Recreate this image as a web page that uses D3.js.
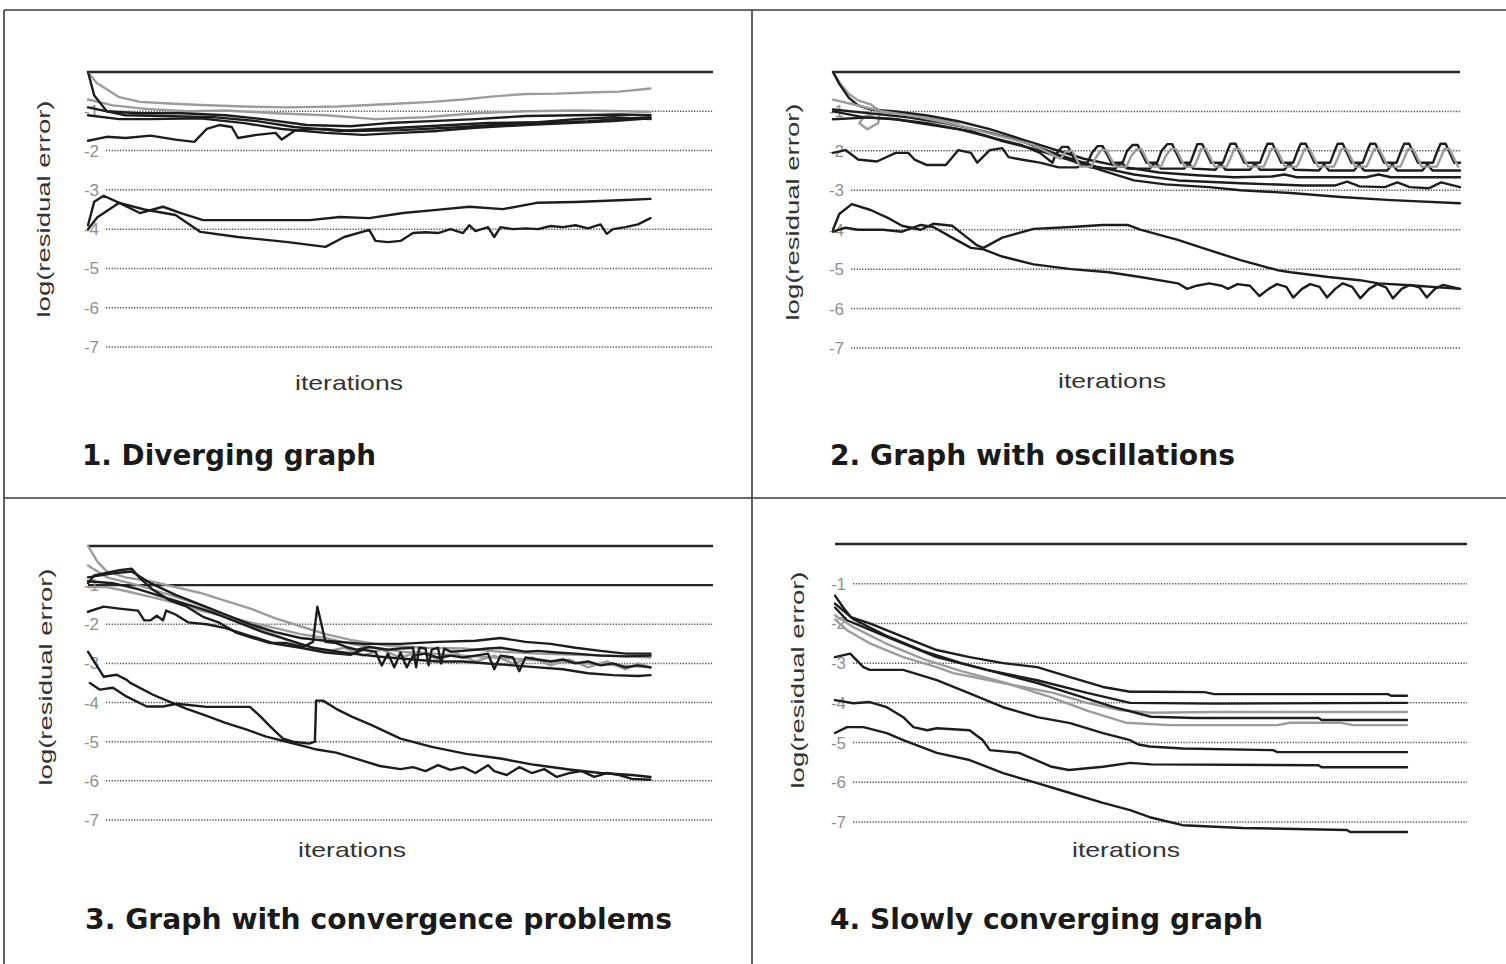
<!DOCTYPE html>
<html>
<head>
<meta charset="utf-8">
<script src="https://cdn.jsdelivr.net/npm/d3@7"></script>
<style>
  html, body { margin: 0; padding: 0; background: #fff; }
  svg { display: block; }
</style>
</head>
<body>
<svg id="chart" width="1506" height="964"></svg>
<script>
// ---------- shared labels ----------
const panelTitles = [
  "1. Diverging graph",
  "2. Graph with oscillations",
  "3. Graph with convergence problems",
  "4. Slowly converging graph"
];
const yTickValues = [-1, -2, -3, -4, -5, -6, -7];
const gridValues = [0, -1, -2, -3, -4, -5, -6, -7];
const xAxisLabel = "iterations";
const yAxisLabel = "log(residual error)";

// ---------- panel 1: diverging (iteration, log residual) ----------
const divGreyRise = [[0,0],[1.4,-0.28],[5,-0.64],[8.3,-0.76],[13,-0.8],[18,-0.84],[25,-0.88],[32,-0.9],[40,-0.88],[45,-0.84],[50,-0.8],[55,-0.76],[60,-0.7],[65,-0.62],[70,-0.56],[75,-0.55],[80,-0.52],[85,-0.5],[90,-0.42]];
const divGreyBand = [[0,-0.7],[4,-0.85],[10,-0.95],[16,-1.0],[22,-0.98],[30,-1.05],[38,-1.1],[46,-1.2],[54,-1.15],[62,-1.05],[70,-1.0],[78,-0.98],[86,-1.0],[90,-1.02]];
const divBlackA = [[0,0],[1,-0.6],[3,-1.0],[8,-1.05],[15,-1.05],[22,-1.1],[28,-1.2],[35,-1.35],[42,-1.38],[48,-1.3],[55,-1.25],[62,-1.2],[70,-1.12],[78,-1.1],[85,-1.08],[90,-1.1]];
const divBlackB = [[0,-0.9],[6,-1.1],[12,-1.12],[20,-1.15],[27,-1.25],[33,-1.4],[40,-1.5],[46,-1.45],[52,-1.4],[58,-1.35],[64,-1.3],[72,-1.28],[78,-1.2],[84,-1.15],[90,-1.2]];
const divBlackC = [[0,-1.1],[5,-1.2],[10,-1.2],[18,-1.18],[25,-1.3],[31,-1.45],[38,-1.55],[44,-1.6],[50,-1.55],[56,-1.5],[62,-1.42],[70,-1.35],[77,-1.3],[84,-1.25],[90,-1.18]];
const divBlackLow = [[0,-1.75],[3,-1.65],[6,-1.68],[10,-1.62],[14,-1.72],[17,-1.78],[19,-1.45],[21,-1.35],[23,-1.4],[24,-1.68],[27,-1.6],[30,-1.55],[31,-1.72],[33,-1.5],[35,-1.45],[38,-1.45],[42,-1.5],[50,-1.48],[60,-1.4],[70,-1.3],[80,-1.25],[90,-1.15]];
const divBlackUpper = [[0,-3.9],[1,-3.3],[2.5,-3.15],[5,-3.33],[8.3,-3.59],[12,-3.43],[15,-3.6],[18.4,-3.77],[26.4,-3.77],[35.5,-3.77],[40.3,-3.69],[45,-3.72],[50.4,-3.59],[55.8,-3.51],[61,-3.43],[66.4,-3.49],[71.8,-3.33],[78,-3.31],[86,-3.26],[90,-3.23]];
const divBlackNoisy = [[0,-4.0],[1.5,-3.7],[5,-3.33],[9,-3.5],[14,-3.64],[18,-4.07],[24,-4.2],[32,-4.33],[38,-4.45],[41,-4.2],[45,-4.02],[46,-4.3],[48,-4.33],[50,-4.3],[52,-4.1],[54,-4.08],[56,-4.1],[58,-4.0],[60,-4.1],[61,-3.9],[62,-4.05],[64,-3.95],[65,-4.2],[66,-3.95],[68,-4.0],[70,-3.98],[72,-4.0],[74,-3.92],[76,-3.95],[78,-3.9],[80,-3.98],[82,-3.88],[83,-4.12],[84,-4.0],[86,-3.95],[88,-3.88],[90,-3.72]];

// ---------- panel 2: oscillations ----------
const oscGreyDrop = [[0,0],[1.2,-0.3],[2.5,-0.55],[4,-0.72],[6,-0.82],[7.5,-1.0],[7.2,-1.3],[5.5,-1.45],[4.2,-1.3],[5,-1.12],[8,-1.02],[12,-1.08],[16,-1.18],[20,-1.32]];
const oscGreyWave = [[0,-0.7],[4,-0.85],[8,-1.0],[14,-1.15],[20,-1.35],[26,-1.6],[32,-1.85],[35,-2.1],[36.3,-2.2],[37.2,-2.0],[38.2,-2.0],[39.4,-2.4],[41.2,-2.4],[42,-2.15],[42.8,-1.98],[43.6,-1.98],[45,-2.4],[46.8,-2.4],[47.5,-2.15],[48.4,-1.96],[49.2,-1.96],[50.6,-2.4],[52.3,-2.4],[53,-2.15],[53.9,-1.95],[54.7,-1.95],[56.1,-2.4],[57.6,-2.4],[58.3,-2.15],[58.7,-1.95],[59.5,-1.95],[60.9,-2.4],[62.8,-2.4],[63.5,-2.15],[64,-1.95],[64.8,-1.95],[66.2,-2.4],[68.7,-2.4],[69.4,-2.15],[69.9,-1.95],[70.7,-1.95],[72.1,-2.4],[74,-2.4],[74.7,-2.15],[75.2,-1.95],[76,-1.95],[77.4,-2.4],[79.9,-2.4],[80.6,-2.15],[81.1,-1.95],[81.9,-1.95],[83.3,-2.4],[85.1,-2.4],[85.8,-2.15],[86.3,-1.95],[87.1,-1.95],[88.5,-2.4],[90.5,-2.4],[91.2,-2.15],[91.7,-1.95],[92.5,-1.95],[93.9,-2.4],[96.3,-2.4],[97,-2.15],[97.5,-1.95],[98.3,-1.95],[99.7,-2.4]];
const oscBlackWave = [[0,-1.0],[5,-1.15],[10,-1.2],[15,-1.3],[20,-1.45],[25,-1.65],[30,-1.85],[33,-2.05],[35,-2.3],[35.5,-2.1],[36.5,-1.9],[37.5,-1.9],[38.8,-2.3],[40.6,-2.3],[41.3,-2.05],[42.2,-1.88],[43,-1.88],[44.4,-2.3],[46.2,-2.3],[46.9,-2.0],[47.8,-1.85],[48.6,-1.85],[50,-2.3],[51.7,-2.3],[52.4,-2.0],[53.3,-1.83],[54.1,-1.83],[55.5,-2.3],[57,-2.3],[57.7,-2.0],[58.1,-1.83],[58.9,-1.83],[60.3,-2.3],[62.2,-2.3],[62.9,-2.0],[63.4,-1.82],[64.2,-1.82],[65.6,-2.3],[68.1,-2.3],[68.8,-2.0],[69.3,-1.82],[70.1,-1.82],[71.5,-2.3],[73.4,-2.3],[74.1,-2.0],[74.6,-1.82],[75.4,-1.82],[76.8,-2.3],[79.3,-2.3],[80,-2.0],[80.5,-1.82],[81.3,-1.82],[82.7,-2.3],[84.5,-2.3],[85.2,-2.0],[85.7,-1.82],[86.5,-1.82],[87.9,-2.3],[89.9,-2.3],[90.6,-2.0],[91.1,-1.82],[91.9,-1.82],[93.3,-2.3],[95.7,-2.3],[96.4,-2.0],[96.9,-1.82],[97.7,-1.82],[99.1,-2.3],[100,-2.3]];
const oscBlackWave2 = [[0,-2.05],[2,-1.98],[4,-2.22],[7,-2.27],[10,-2.05],[12,-2.05],[13,-2.22],[15,-2.36],[18,-2.36],[20,-1.98],[22,-2.05],[23,-2.3],[25,-1.98],[27,-1.93],[28,-2.16],[30,-2.22],[33,-2.3],[36,-2.42],[39,-2.42],[40,-2.3],[41,-2.42],[45,-2.45],[46,-2.3],[47,-2.45],[50.5,-2.45],[51.4,-2.3],[52.3,-2.45],[56,-2.45],[56.7,-2.32],[57.5,-2.45],[61,-2.48],[61.8,-2.32],[62.6,-2.48],[66.5,-2.48],[67.3,-2.32],[68.1,-2.48],[72,-2.48],[72.8,-2.32],[73.6,-2.48],[77.5,-2.5],[78.3,-2.34],[79.1,-2.5],[83.1,-2.5],[83.9,-2.34],[84.7,-2.5],[88.4,-2.5],[89.2,-2.34],[90,-2.5],[94,-2.5],[94.8,-2.34],[95.6,-2.5],[100,-2.5]];
const oscBlackDrop = [[0,0],[1,-0.3],[2.5,-0.65],[4,-0.85],[6,-0.95],[10,-1.0],[15,-1.1],[20,-1.25],[25,-1.45],[30,-1.7],[35,-1.95],[40,-2.2],[46,-2.4],[52,-2.55],[58,-2.62],[64,-2.67],[70,-2.65],[72,-2.6],[74,-2.67],[85,-2.67],[87,-2.6],[89,-2.67],[100,-2.67]];
const oscBlackMid = [[0,-0.95],[6,-1.05],[12,-1.15],[18,-1.3],[24,-1.5],[30,-1.75],[36,-2.1],[42,-2.4],[48,-2.6],[55,-2.75],[65,-2.82],[75,-2.88],[80,-2.88],[82,-2.78],[84,-2.9],[88,-2.92],[90,-2.8],[92,-2.92],[95,-2.95],[97,-2.8],[100,-2.92]];
const oscBlackLow = [[0,-1.2],[6,-1.15],[10,-1.2],[16,-1.35],[22,-1.5],[27,-1.75],[32,-1.95],[38,-2.25],[43,-2.5],[48,-2.75],[53,-2.85],[60,-2.92],[65,-3.0],[73,-3.07],[81,-3.17],[89,-3.25],[100,-3.33]];
const oscBlackHump = [[0,-4.0],[1,-3.6],[3,-3.35],[6,-3.5],[9,-3.72],[11,-3.9],[14,-4.0],[16,-3.85],[19,-3.9],[21,-4.15],[23,-4.4],[24,-4.46],[27,-4.2],[32,-3.98],[38,-3.93],[43,-3.88],[47,-3.88],[49,-4.0],[55,-4.26],[60,-4.52],[65,-4.77],[71,-5.03],[73,-5.08],[79,-5.2],[84,-5.28],[87,-5.36],[92,-5.41],[100,-5.5]];
const oscBlackDecay = [[0,-4.05],[2,-3.95],[4,-4.0],[8,-4.0],[11,-4.05],[14,-3.88],[16,-3.93],[19,-4.2],[22,-4.46],[24,-4.5],[27,-4.68],[32,-4.88],[38,-5.0],[44,-5.08],[49,-5.2],[55,-5.36],[56.5,-5.5],[58,-5.42],[60,-5.36],[62,-5.42],[63,-5.5],[64.5,-5.38],[66.5,-5.42],[68,-5.68],[69.5,-5.5],[70.8,-5.38],[72.3,-5.45],[73.4,-5.72],[74.8,-5.5],[76.1,-5.38],[77.6,-5.45],[78.8,-5.72],[80.1,-5.5],[81.3,-5.36],[82.8,-5.45],[84.1,-5.74],[85.5,-5.5],[86.8,-5.38],[88.2,-5.46],[89.3,-5.74],[90.7,-5.5],[92,-5.4],[93.5,-5.46],[94.7,-5.72],[96,-5.5],[97.3,-5.4],[100,-5.5]];

// ---------- panel 3: convergence problems ----------
const convGreyDrop = [[0,0],[1.5,-0.4],[3,-0.65],[6,-0.8],[10,-0.9],[14,-1.05],[18,-1.2],[22,-1.4],[26,-1.6],[30,-1.85],[34,-2.05],[38,-2.25],[42,-2.4],[48,-2.55],[54,-2.6],[60,-2.62],[66,-2.7],[72,-2.75],[78,-2.78],[84,-2.8],[90,-2.85]];
const convGreyBand = [[0,-1.05],[3,-1.05],[6,-1.15],[10,-1.3],[14,-1.45],[18,-1.65],[22,-1.8],[26,-1.95],[30,-2.1],[34,-2.25],[38,-2.35],[42,-2.5],[46,-2.6],[50,-2.7],[55,-2.75],[60,-2.8],[65,-2.85],[70,-2.9],[75,-2.95],[80,-3.0],[85,-3.05],[90,-3.1]];
const convGreyNoise = [[0,-0.5],[3,-0.8],[8,-1.0],[12,-1.2],[16,-1.4],[20,-1.65],[24,-1.9],[28,-2.15],[32,-2.4],[35,-2.55],[38,-2.7],[41,-2.6],[44,-2.8],[47,-2.65],[50,-2.85],[53,-2.7],[56,-2.9],[59,-2.75],[62,-2.95],[65,-2.8],[68,-3.0],[71,-2.85],[74,-3.05],[77,-2.9],[80,-3.1],[83,-2.95],[86,-3.15],[88,-3.0],[90,-3.1]];
const convBlackSpike = [[0,-0.95],[1,-0.75],[5,-0.62],[7,-0.58],[8.3,-0.82],[10.4,-1.12],[13,-1.38],[15.8,-1.55],[18.4,-1.81],[21,-1.96],[23.8,-2.22],[26.4,-2.35],[29.1,-2.48],[31.8,-2.48],[34.4,-2.58],[36,-2.45],[36.7,-1.55],[37.5,-2.1],[38,-2.45],[39.7,-2.48],[41.3,-2.58],[43,-2.65],[45,-2.58],[48,-2.65],[50,-2.62],[52,-2.6],[52.5,-3.1],[53,-2.6],[54,-2.62],[54.5,-3.05],[55,-2.65],[56,-2.6],[56.5,-3.0],[57,-2.62],[58,-2.7],[60,-2.68],[62,-2.65],[64,-2.62],[66,-2.6],[68,-2.65],[70,-2.7],[72,-2.68],[75,-2.72],[78,-2.75],[82,-2.8],[86,-2.82],[90,-2.8]];
const convBlackLow = [[0,-1.68],[2.5,-1.55],[5,-1.6],[8,-1.65],[9,-1.9],[10,-1.9],[11,-1.78],[12,-1.9],[12.5,-1.65],[14,-1.75],[16,-1.95],[19,-2.0],[22,-2.1],[26,-2.3],[30,-2.5],[34,-2.6],[38,-2.72],[42,-2.78],[44,-2.65],[46,-2.7],[47,-3.05],[48,-2.75],[49,-3.1],[50,-2.72],[51,-3.1],[52,-2.8],[54,-2.75],[56,-2.85],[58,-2.8],[60,-2.85],[62,-2.8],[64,-2.75],[65,-3.15],[66,-2.8],[68,-2.85],[69,-3.2],[70,-2.85],[72,-2.9],[74,-2.95],[76,-2.9],[78,-3.0],[80,-2.95],[82,-3.05],[84,-3.0],[86,-3.1],[88,-3.05],[90,-3.1]];
const convBlackEdge = [[0,-0.9],[4,-0.95],[8,-1.1],[12,-1.3],[16,-1.5],[20,-1.7],[24,-1.95],[28,-2.2],[32,-2.4],[36,-2.6],[40,-2.7],[44,-2.78],[48,-2.85],[52,-2.9],[56,-2.95],[60,-2.95],[64,-3.0],[68,-3.05],[72,-3.1],[76,-3.15],[80,-3.25],[84,-3.3],[88,-3.32],[90,-3.3]];
const convBlackTop = [[0,-0.8],[4,-0.7],[7,-0.65],[10,-0.95],[14,-1.25],[18,-1.5],[22,-1.75],[26,-2.0],[30,-2.2],[34,-2.35],[38,-2.42],[44,-2.5],[50,-2.5],[56,-2.45],[62,-2.42],[66,-2.35],[70,-2.45],[74,-2.5],[78,-2.6],[82,-2.68],[86,-2.75],[90,-2.75]];
const convBlackSteady = [[0,-2.7],[2.5,-3.34],[4.6,-3.29],[6.2,-3.42],[6.7,-3.49],[10.4,-3.8],[13.1,-3.98],[15.8,-4.16],[19,-4.34],[22,-4.52],[25.4,-4.69],[28.5,-4.87],[31.8,-5.0],[35,-5.13],[36.6,-5.2],[39.7,-5.28],[42.2,-5.4],[46.7,-5.62],[50,-5.7],[52,-5.65],[54,-5.75],[56,-5.6],[58,-5.72],[60,-5.65],[62,-5.8],[64,-5.6],[65,-5.75],[67,-5.85],[69,-5.65],[71,-5.8],[73,-5.7],[75,-5.9],[77,-5.8],[79,-5.75],[81,-5.9],[83,-5.8],[85,-5.85],[87,-5.95],[90,-5.97]];
const convBlackJump = [[0.3,-3.5],[1.9,-3.67],[4,-3.62],[6.2,-3.85],[9.4,-4.1],[12,-4.1],[14.2,-4.03],[19,-4.11],[22.7,-4.11],[25.9,-4.11],[27.5,-4.34],[29.1,-4.6],[31.2,-4.92],[32.8,-5.0],[35.4,-5.05],[36.3,-5.0],[36.5,-3.95],[37.6,-3.95],[39.7,-4.16],[42.2,-4.36],[45.3,-4.57],[50,-4.92],[55,-5.13],[60.5,-5.31],[66,-5.43],[71.4,-5.59],[77,-5.71],[82,-5.8],[87,-5.85],[90,-5.9]];

// ---------- panel 4: slow convergence ----------
const slowBlackTop = [[0,-1.3],[1.3,-1.6],[2.5,-1.84],[5.5,-2.0],[10.8,-2.34],[16.1,-2.67],[21.3,-2.85],[26.6,-3.0],[32,-3.1],[37.2,-3.35],[42.4,-3.6],[46.7,-3.72],[50,-3.72],[58.5,-3.73],[60,-3.78],[87.5,-3.78],[88,-3.82],[90.5,-3.82]];
const slowBlackSecond = [[0,-1.6],[1.9,-1.92],[8.2,-2.34],[16.1,-2.85],[24,-3.17],[32,-3.43],[39.9,-3.75],[46.7,-4.0],[60,-4.02],[90.5,-4.0]];
const slowGreyThird = [[0,-1.9],[1.9,-2.17],[5.5,-2.5],[10.8,-2.85],[16.1,-3.1],[18.7,-3.25],[26.6,-3.5],[34.5,-3.75],[39.9,-4.0],[45,-4.18],[50,-4.25],[60,-4.23],[90.5,-4.23]];
const slowBlackFourth = [[0,-1.5],[3,-1.9],[8,-2.3],[14,-2.7],[20,-3.0],[26,-3.25],[32,-3.5],[38,-3.8],[44,-4.1],[50,-4.35],[57,-4.38],[76.5,-4.38],[77,-4.43],[90.5,-4.43]];
const slowGreyFifth = [[0,-1.8],[3,-2.1],[8,-2.5],[14,-2.9],[20,-3.2],[27,-3.5],[34,-3.85],[40,-4.2],[46,-4.5],[53,-4.56],[70,-4.56],[72,-4.5],[80,-4.5],[82,-4.56],[90.5,-4.56]];
const slowBlackFromThree = [[0,-2.85],[2.4,-2.76],[4.5,-3.1],[5.5,-3.17],[10.8,-3.17],[16.1,-3.43],[21.3,-3.76],[26.6,-4.11],[32,-4.36],[37.2,-4.51],[42.4,-4.76],[46.7,-4.94],[48,-5.05],[49.8,-5.1],[55,-5.15],[69.3,-5.19],[70,-5.24],[90.5,-5.24]];
const slowBlackFromFour = [[0,-3.93],[2.9,-4.01],[5.5,-3.98],[8.2,-4.11],[10.8,-4.36],[12.4,-4.61],[14.6,-4.69],[16.1,-4.64],[21.3,-4.69],[23.4,-4.94],[24.5,-5.19],[29.1,-5.26],[34.3,-5.61],[37,-5.69],[42.4,-5.61],[46.7,-5.51],[50,-5.55],[76.5,-5.57],[77,-5.62],[90.5,-5.62]];
const slowBlackFromFive = [[0,-4.76],[1.9,-4.61],[4.5,-4.61],[8.2,-4.76],[10.8,-4.94],[16.1,-5.26],[21.3,-5.44],[26.6,-5.77],[32,-6.02],[37.2,-6.27],[42.4,-6.52],[46.7,-6.7],[49.8,-6.88],[55,-7.08],[64.5,-7.15],[81,-7.2],[81.5,-7.25],[90.5,-7.25]];

// ---------- drawing setup ----------
const svg = d3.select("#chart");
svg.append("rect").attr("width", 1506).attr("height", 964).attr("fill", "#ffffff");

const inkBlack = "#1d1d1d";
const inkGrey = "#9c9c9c";

const panels = [
  { title: panelTitles[0], frame: { left: 88, right: 713, top: 72, bottom: 347 },
    solid: [0], yLab: [43, 209], xLab: [349, 390], titlePos: [82, 465, 294],
    series: [divGreyRise, divGreyBand, divBlackA, divBlackB, divBlackC, divBlackLow, divBlackUpper, divBlackNoisy],
    tones:  ["grey", "grey", "black", "black", "black", "black", "black", "black"] },
  { title: panelTitles[1], frame: { left: 833, right: 1460, top: 72, bottom: 348 },
    solid: [0], yLab: [792, 212], xLab: [1112, 388], titlePos: [830, 465, 405],
    series: [oscGreyDrop, oscBlackDrop, oscBlackMid, oscBlackLow, oscBlackWave2, oscBlackWave, oscGreyWave, oscBlackHump, oscBlackDecay],
    tones:  ["grey", "black", "black", "black", "black", "black", "grey", "black", "black"] },
  { title: panelTitles[2], frame: { left: 88, right: 713, top: 546, bottom: 820 },
    solid: [0, -1], yLab: [45, 677], xLab: [352, 857], titlePos: [85, 929, 587],
    series: [convGreyDrop, convGreyBand, convGreyNoise, convBlackSpike, convBlackLow, convBlackEdge, convBlackTop, convBlackSteady, convBlackJump],
    tones:  ["grey", "grey", "grey", "black", "black", "black", "black", "black", "black"] },
  { title: panelTitles[3], frame: { left: 835, right: 1467, top: 544, bottom: 822 },
    solid: [0], yLab: [797, 680], xLab: [1126, 857], titlePos: [830, 929, 433],
    series: [slowGreyThird, slowGreyFifth, slowBlackTop, slowBlackSecond, slowBlackFourth, slowBlackFromThree, slowBlackFromFour, slowBlackFromFive],
    tones:  ["grey", "grey", "black", "black", "black", "black", "black", "black"] }
];

// ---------- frame lines ----------
const frameInk = "#3a3a3a";
const frameLines = [
  [4, 10, 1506, 10], [4, 10, 4, 964], [752, 10, 752, 964], [4, 498, 1506, 498]
];
svg.append("g").selectAll("line").data(frameLines).join("line")
  .attr("x1", d => d[0]).attr("y1", d => d[1]).attr("x2", d => d[2]).attr("y2", d => d[3])
  .attr("stroke", frameInk).attr("stroke-width", 1.6);

// ---------- panels ----------
panels.forEach(p => {
  const f = p.frame;
  const g = svg.append("g");
  const x = d3.scaleLinear().domain([0, 100]).range([f.left, f.right]);
  const y = d3.scaleLinear().domain([0, -7]).range([f.top, f.bottom]);

  // horizontal grid: solid reference level(s), dotted for the rest
  g.append("g").selectAll("line").data(gridValues).join("line")
    .attr("x1", v => p.solid.includes(v) ? f.left : f.left + 18)
    .attr("x2", f.right)
    .attr("y1", v => y(v)).attr("y2", v => y(v))
    .attr("stroke", v => p.solid.includes(v) ? "#262626" : "#555")
    .attr("stroke-width", v => p.solid.includes(v) ? 2.4 : 1.5)
    .attr("stroke-dasharray", v => p.solid.includes(v) ? null : "1.3,1.5");

  // y tick labels
  const axis = g.append("g")
    .attr("transform", `translate(${f.left + 11},0)`)
    .call(d3.axisLeft(y).tickValues(yTickValues).tickSize(0).tickPadding(0).tickFormat(d => String(d)));
  axis.select(".domain").remove();
  axis.selectAll("text")
    .attr("font-family", "'Liberation Sans', Arial, sans-serif")
    .attr("font-size", 17)
    .attr("fill", "#8f8f8f");

  // residual curves
  const line = d3.line().x(d => x(d[0])).y(d => y(d[1]));
  g.append("g").selectAll("path").data(p.series).join("path")
    .attr("d", line)
    .attr("fill", "none")
    .attr("stroke", (d, i) => p.tones[i] === "grey" ? inkGrey : inkBlack)
    .attr("stroke-width", 2.4)
    .attr("stroke-linejoin", "round")
    .attr("stroke-linecap", "round");

  // axis titles
  g.append("text")
    .attr("transform", `translate(${p.yLab[0]},${p.yLab[1]}) rotate(-90)`)
    .attr("text-anchor", "middle")
    .attr("dominant-baseline", "central")
    .attr("font-family", "'Liberation Sans', Arial, sans-serif")
    .attr("font-size", 19)
    .attr("fill", "#333")
    .attr("textLength", 217).attr("lengthAdjust", "spacingAndGlyphs")
    .text(yAxisLabel);

  g.append("text")
    .attr("x", p.xLab[0]).attr("y", p.xLab[1])
    .attr("text-anchor", "middle")
    .attr("font-family", "'Liberation Sans', Arial, sans-serif")
    .attr("font-size", 21)
    .attr("fill", "#333")
    .attr("textLength", 108).attr("lengthAdjust", "spacingAndGlyphs")
    .text(xAxisLabel);

  // panel caption
  g.append("text")
    .attr("x", p.titlePos[0]).attr("y", p.titlePos[1])
    .attr("font-family", "'Liberation Sans Narrow', 'Arial Narrow', 'DejaVu Sans Condensed', sans-serif")
    .attr("font-weight", "bold")
    .attr("font-size", 29)
    .attr("fill", "#1a1a1a")
    .attr("textLength", p.titlePos[2]).attr("lengthAdjust", "spacingAndGlyphs")
    .text(p.title);
});
</script>
</body>
</html>
